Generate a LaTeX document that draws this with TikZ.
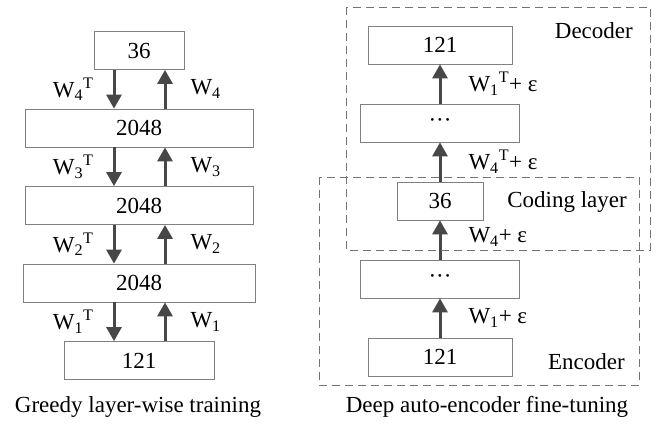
\documentclass[tikz,border=0pt]{standalone}
\usepackage{fontspec}
\setmainfont{Liberation Serif}
\usetikzlibrary{arrows.meta,positioning}

\begin{document}
\begin{tikzpicture}[x=1pt,y=-1pt,node distance=77.5pt,
  layer/.style={draw=black!50,line width=0.8pt,minimum height=38pt,inner sep=0pt,font=\fontsize{23}{27}\selectfont},
  wgt/.style={-{Triangle[width=15pt,length=14pt]},line width=3pt,draw=black!72},
  lbl/.style={font=\fontsize{23}{27}\selectfont,inner sep=0pt},
  grp/.style={draw=black!55,line width=0.9pt,dash pattern=on 8pt off 5pt}]

\useasboundingbox (0,0) rectangle (658,424);

% greedy layer-wise training
  \node[layer,minimum width=150pt] (in) at (139,360.5) {121};
  \node[layer,minimum width=232pt] (h1) [above of=in] {2048};
  \node[layer,minimum width=228pt] (h2) [above of=h1] {2048};
  \node[layer,minimum width=228pt] (h3) [above of=h2] {2048};
  \node[layer,minimum width=90pt] (code) [above of=h3] {36};

  \foreach \lo/\hi/\i in {in/h1/1,h1/h2/2,h2/h3/3,h3/code/4}{
    \draw[wgt] ([xshift=-25pt]\hi.south) -- node[lbl,left=19pt]{W\textsubscript{\i}\textsuperscript{T}} ([xshift=-25pt]\lo.north);
    \draw[wgt] ([xshift=26pt]\lo.north) -- node[lbl,right=24pt]{W\textsubscript{\i}} ([xshift=26pt]\hi.south);
  }

  \node[lbl,anchor=base] (cap1) at (138,412) {Greedy layer-wise training};

% deep auto-encoder fine-tuning
\begin{scope}[node distance=78pt]
  \node[layer,minimum width=144pt] (ein) at (440,357) {121};
  \node[layer,minimum width=159pt] (eh) [above of=ein] {···};
  \node[layer,minimum width=86pt] (ecode) [above of=eh] {36};
  \node[layer,minimum width=159pt] (dh) [above of=ecode] {···};
  \node[layer,minimum width=144pt] (dout) [above of=dh] {121};
\end{scope}

  \draw[wgt] (ein) -- node[lbl,right=27pt]{W\textsubscript{1}+ ε} (eh);
  \draw[wgt] (eh) -- node[lbl,right=27pt,yshift=3pt]{W\textsubscript{4}+ ε} (ecode);
  \draw[wgt] (ecode) -- node[lbl,right=27pt]{W\textsubscript{4}\textsuperscript{T}+ ε} (dh);
  \draw[wgt] (dh) -- node[lbl,right=27pt]{W\textsubscript{1}\textsuperscript{T}+ ε} (dout);

  % dashed groups
  \draw[grp] (346,7) rectangle (650,250);
  \draw[grp] (319,177) rectangle (639,385);
  \node[lbl,anchor=east] (dec) at (633,31) {Decoder};
  \node[lbl,anchor=east] (cod) at (627,202) {Coding layer};
  \node[lbl,anchor=east] (enc) at (625,362) {Encoder};

  \node[lbl,anchor=base] (cap2) at (487,412) {Deep auto-encoder fine-tuning};
\end{tikzpicture}
\end{document}
